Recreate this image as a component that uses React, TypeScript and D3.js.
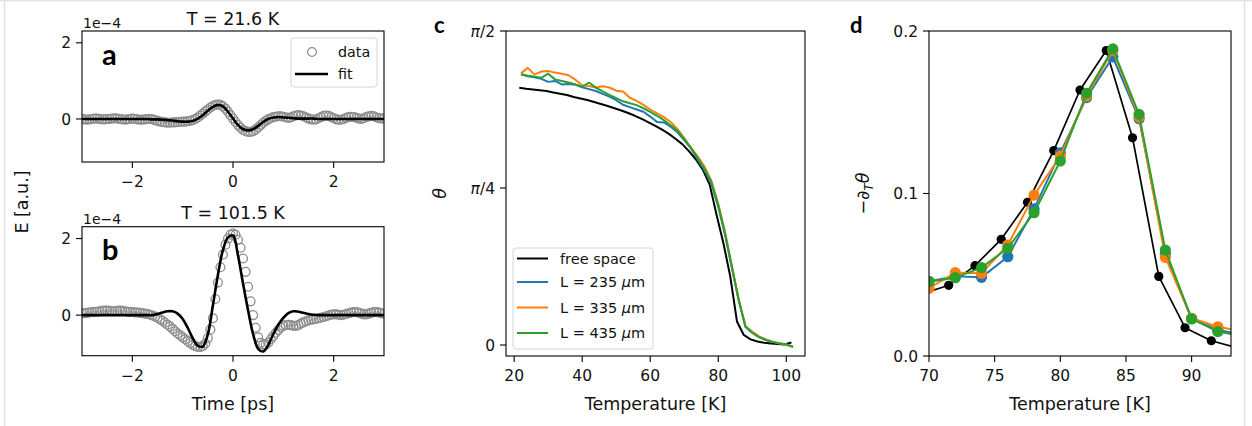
import React from "react";
import * as d3 from "d3";

// ---------- DATA ----------
// panels a/b: sampled time grid (ps)
const TIME_DATA_STEP = 0.05;
const TIME_FIT_STEP = 0.1;
const timeData = d3.range(0, 121).map((i) => -3 + i * TIME_DATA_STEP);
const timeFit = d3.range(0, 61).map((i) => -3 + i * TIME_FIT_STEP);

// E field, units of 1e-4, T = 21.6 K
const E_DATA_A = [
  0.0, -0.01, -0.02, -0.01, 0.0, 0.01, 0.01, 0.0, -0.01, -0.01, 0.0, 0.0, 0.01, 0.02, 0.01, 0.0, -0.01, -0.02, -0.01, 0.0,
  0.01, 0.0, -0.01, -0.02, -0.02, -0.01, 0.0, 0.0, -0.01,
  -0.03, -0.05, -0.07, -0.08, -0.09, -0.1, -0.1, -0.09, -0.09, -0.08, -0.08, -0.07, -0.07, -0.06, -0.05, -0.03,
  0.0, 0.04, 0.09, 0.14, 0.2, 0.25, 0.3, 0.34, 0.37, 0.38,
  0.37, 0.33, 0.27, 0.19, 0.1, 0.01, -0.08, -0.16, -0.23, -0.29, -0.32, -0.34, -0.34,
  -0.32, -0.28, -0.22, -0.16, -0.1, -0.05, -0.01, 0.02, 0.05, 0.06,
  0.07, 0.07, 0.06, 0.04, 0.03, 0.04, 0.07, 0.09, 0.1, 0.09, 0.07, 0.04, 0.01, -0.01, -0.02, -0.01, 0.02, 0.05, 0.08, 0.09,
  0.08, 0.05, 0.02, -0.01, -0.02, -0.02, 0.0, 0.03, 0.05, 0.06, 0.05, 0.03, 0.01, 0.0, 0.02, 0.05, 0.07, 0.08, 0.07, 0.04,
  0.02, 0.01, 0.02,
];
const E_FIT_A = [
  0, 0, 0, 0, 0, 0, 0, 0, 0, 0, 0, 0, 0, 0, -0.01, -0.01,
  -0.02, -0.03, -0.04, -0.06, -0.07, -0.07, -0.05, 0.01, 0.1, 0.22, 0.32, 0.37, 0.33, 0.19, 0.01, -0.16, -0.27, -0.3, -0.27,
  -0.18, -0.08, 0.0, 0.04, 0.05, 0.04, 0.03, 0.02, 0.01,
  0.01, 0.01, 0.01, 0, 0, 0, 0, 0, 0, 0, 0, 0, 0, 0, 0, 0, 0,
];
// E field, units of 1e-4, T = 101.5 K
const E_DATA_B = [
  0.05, 0.05, 0.06, 0.07, 0.08, 0.08, 0.09, 0.1, 0.11, 0.12, 0.12, 0.11, 0.1, 0.1, 0.11, 0.12, 0.11, 0.1, 0.09, 0.08,
  0.08, 0.07, 0.07, 0.06, 0.05, 0.04, 0.03,
  0.01, -0.01, -0.04, -0.07, -0.11, -0.15, -0.2, -0.25, -0.3, -0.36, -0.42, -0.48, -0.53, -0.58, -0.63, -0.68, -0.73, -0.78, -0.81,
  -0.83, -0.83, -0.81, -0.74, -0.6, -0.38, -0.08, 0.42, 0.85, 1.25, 1.58, 1.84, 2.0, 2.1, 2.13,
  2.1, 1.97, 1.76, 1.48, 1.13, 0.74, 0.36, 0.0, -0.33, -0.58, -0.72, -0.77,
  -0.77, -0.72, -0.63, -0.55, -0.46, -0.39, -0.32, -0.28, -0.26, -0.25, -0.26, -0.28, -0.28, -0.26, -0.22, -0.19, -0.16, -0.14,
  -0.12, -0.11, -0.1, -0.08, -0.07, -0.05, -0.03, -0.01, 0.01, 0.02, 0.02, 0.01, 0.0, 0.01, 0.03, 0.05, 0.07, 0.08, 0.08, 0.06,
  0.04, 0.02, 0.02, 0.04, 0.06, 0.08, 0.08, 0.07, 0.05, 0.04,
];
const E_FIT_B = [
  0, 0, 0, 0, 0, 0, 0, 0, 0, 0, 0, 0, 0, 0, 0,
  0.03, 0.07, 0.1, 0.1, 0.04, -0.1, -0.33, -0.6, -0.8, -0.82, -0.5, 0.25, 1.05, 1.7, 2.03, 2.08, 1.55, 0.82, 0.12, -0.5,
  -0.88, -0.95, -0.78, -0.5, -0.25, -0.07, 0.05, 0.1, 0.09, 0.06, 0.03, 0.01,
  0, 0, 0, 0, 0, 0, 0, 0, 0, 0, 0, 0, 0, 0,
];

// panel c: theta in units of pi/4
const TEMP_FREE = d3.range(0, 41).map((i) => 21.5 + 2 * i);
const TEMP_SAMPLE = d3.range(0, 41).map((i) => 22 + 2 * i);
const THETA_FREE = [
  1.638, 1.632, 1.628, 1.623, 1.618, 1.608, 1.6, 1.592, 1.58, 1.57, 1.56, 1.548, 1.535, 1.522, 1.508, 1.494, 1.478, 1.46,
  1.44, 1.418, 1.396, 1.372, 1.345, 1.312, 1.278, 1.232, 1.18, 1.115, 1.02, 0.83, 0.65, 0.44, 0.15, 0.064, 0.036, 0.022,
  0.014, 0.009, 0.006, 0.004, 0.016,
];
const THETA_235 = [
  1.725, 1.712, 1.705, 1.695, 1.676, 1.682, 1.66, 1.662, 1.658, 1.642, 1.63, 1.618, 1.6, 1.582, 1.56, 1.53, 1.515, 1.5,
  1.486, 1.455, 1.42, 1.418, 1.39, 1.355, 1.305, 1.25, 1.18, 1.11, 1.025, 0.88, 0.7, 0.49, 0.285, 0.115, 0.078, 0.05,
  0.032, 0.02, 0.01, 0.003, -0.012,
];
const THETA_335 = [
  1.73, 1.765, 1.722, 1.742, 1.745, 1.735, 1.728, 1.718, 1.69, 1.655, 1.65, 1.64, 1.648, 1.64, 1.62, 1.615, 1.575, 1.555,
  1.53, 1.5, 1.475, 1.452, 1.42, 1.376, 1.318, 1.255, 1.2, 1.135, 1.045, 0.9, 0.72, 0.5, 0.29, 0.12, 0.085, 0.055, 0.035,
  0.02, 0.012, 0.003, -0.012,
];
const THETA_435 = [
  1.725, 1.715, 1.708, 1.702, 1.728, 1.692, 1.682, 1.672, 1.66, 1.645, 1.672, 1.64, 1.615, 1.593, 1.572, 1.552, 1.54, 1.528,
  1.508, 1.485, 1.46, 1.432, 1.4, 1.365, 1.312, 1.255, 1.19, 1.12, 1.035, 0.89, 0.71, 0.5, 0.29, 0.12, 0.078, 0.05, 0.032,
  0.02, 0.01, 0.003, -0.012,
];

// panel d: -dθ/dT
const TEMP_D_FREE = [69.5, 71.5, 73.5, 75.5, 77.5, 79.5, 81.5, 83.5, 85.5, 87.5, 89.5, 91.5, 93.5];
const DTHETA_FREE = [0.0383, 0.0435, 0.0556, 0.0718, 0.0946, 0.1264, 0.1637, 0.188, 0.1343, 0.049, 0.0174, 0.0094, 0.005];
const TEMP_D = [70, 72, 74, 76, 78, 80, 82, 84, 86, 88, 90, 92, 94];
const DTHETA_235 = [0.046, 0.049, 0.0484, 0.0611, 0.0905, 0.125, 0.159, 0.184, 0.146, 0.063, 0.023, 0.016, 0.013];
const DTHETA_335 = [0.0417, 0.0513, 0.0509, 0.0683, 0.099, 0.123, 0.16, 0.188, 0.147, 0.0607, 0.0232, 0.018, 0.015];
const DTHETA_435 = [0.0457, 0.0482, 0.0544, 0.0663, 0.0882, 0.12, 0.1617, 0.189, 0.1487, 0.0652, 0.0228, 0.015, 0.012];

const SERIES_LABELS = ["free space", "L = 235 ", "L = 335 ", "L = 435 "];
const COLORS = ["#000000", "#1f77b4", "#ff7f0e", "#2ca02c"];

// ---------- STYLE ----------
const FONT = "'DejaVu Sans', sans-serif";
const TICK_FS = 15.5;
const LABEL_FS = 17.5;
const TXT = "#111";

type Box = { x0: number; x1: number; y0: number; y1: number };

function Frame({ b }: { b: Box }) {
  return <rect x={b.x0} y={b.y0} width={b.x1 - b.x0} height={b.y1 - b.y0} fill="none" stroke="#000" strokeWidth={1.1} />;
}

function XTicks({ b, sx, ticks, fmt }: { b: Box; sx: any; ticks: number[]; fmt: (v: number) => any }) {
  return (
    <g>
      {ticks.map((t, i) => (
        <g key={i}>
          <line x1={sx(t)} x2={sx(t)} y1={b.y1} y2={b.y1 + 6} stroke="#000" strokeWidth={1.1} />
          <text x={sx(t)} y={b.y1 + 25} textAnchor="middle" fontSize={TICK_FS} fontFamily={FONT} fill={TXT}>
            {fmt(t)}
          </text>
        </g>
      ))}
    </g>
  );
}

function YTicks({ b, sy, ticks, fmt }: { b: Box; sy: any; ticks: number[]; fmt: (v: number) => any }) {
  return (
    <g>
      {ticks.map((t, i) => (
        <g key={i}>
          <line x1={b.x0 - 6} x2={b.x0} y1={sy(t)} y2={sy(t)} stroke="#000" strokeWidth={1.1} />
          <text x={b.x0 - 11} y={sy(t) + 5.6} textAnchor="end" fontSize={TICK_FS} fontFamily={FONT} fill={TXT}>
            {fmt(t)}
          </text>
        </g>
      ))}
    </g>
  );
}

const minus = (v: number) => (v < 0 ? "\u2212" + Math.abs(v) : String(v));

function PulsePanel({ b, yDom, data, fit, title, letter, id }: any) {
  const sx = d3.scaleLinear().domain([-3, 3]).range([b.x0, b.x1]);
  const sy = d3.scaleLinear().domain(yDom).range([b.y1, b.y0]);
  const line = d3
    .line<number>()
    .x((_, i) => sx(timeFit[i]))
    .y((d) => sy(d))
    .curve(d3.curveCatmullRom);
  return (
    <g>
      <defs>
        <clipPath id={id}>
          <rect x={b.x0} y={b.y0} width={b.x1 - b.x0} height={b.y1 - b.y0} />
        </clipPath>
      </defs>
      <g clipPath={`url(#${id})`}>
        {data.map((v: number, i: number) => (
          <circle key={i} cx={sx(timeData[i])} cy={sy(v)} r={4.4} fill="none" stroke="#8c8c8c" strokeWidth={1.3} />
        ))}
        <path d={line(fit) || ""} fill="none" stroke="#000" strokeWidth={2.6} />
      </g>
      <Frame b={b} />
      <XTicks b={b} sx={sx} ticks={[-2, 0, 2]} fmt={minus} />
      <YTicks b={b} sy={sy} ticks={[0, 2]} fmt={(v) => String(v)} />
      <text x={b.x0 + 1} y={b.y0 - 3} fontSize={14} fontFamily={FONT} fill={TXT}>
        1e{"\u2212"}4
      </text>
      <text x={(b.x0 + b.x1) / 2} y={title.y} textAnchor="middle" fontSize={LABEL_FS} fontFamily={FONT} fill={TXT}>
        {title.text}
      </text>
      <text x={102} y={letter.y} fontSize={29} fontWeight={700} fontFamily="Lato, 'Open Sans', sans-serif" fill="#000">
        {letter.text}
      </text>
    </g>
  );
}

export default function App() {
  const bA: Box = { x0: 82, x1: 384, y0: 31, y1: 162 };
  const bB: Box = { x0: 82, x1: 384, y0: 226.7, y1: 355.7 };
  const bC: Box = { x0: 506, x1: 805, y0: 31, y1: 356 };
  const bD: Box = { x0: 929, x1: 1231, y0: 31, y1: 356 };

  const sxC = d3.scaleLinear().domain([17.6, 105.5]).range([bC.x0, bC.x1]);
  const syC = d3.scaleLinear().domain([-0.07, 2]).range([bC.y1, bC.y0]);
  const sxD = d3.scaleLinear().domain([70, 93]).range([bD.x0, bD.x1]);
  const syD = d3.scaleLinear().domain([0, 0.2]).range([bD.y1, bD.y0]);

  const cSeries = [
    { t: TEMP_FREE, v: THETA_FREE },
    { t: TEMP_SAMPLE, v: THETA_235 },
    { t: TEMP_SAMPLE, v: THETA_335 },
    { t: TEMP_SAMPLE, v: THETA_435 },
  ];
  const dSeries = [
    { t: TEMP_D_FREE, v: DTHETA_FREE },
    { t: TEMP_D, v: DTHETA_235 },
    { t: TEMP_D, v: DTHETA_335 },
    { t: TEMP_D, v: DTHETA_435 },
  ];
  const lineC = (s: any) =>
    d3
      .line<number>()
      .x((_, i) => sxC(s.t[i]))
      .y((d) => syC(d))(s.v) || "";
  const lineD = (s: any) =>
    d3
      .line<number>()
      .x((_, i) => sxD(s.t[i]))
      .y((d) => syD(d))(s.v) || "";

  const legendY = [258.5, 282, 307.5, 333];

  return (
    <svg
      width={1252}
      height={426}
      style={{ position: "absolute", left: 0, top: 0, background: "#fff" }}
      xmlns="http://www.w3.org/2000/svg"
    >
      <rect x={0} y={0} width={1252} height={426} fill="#fff" />
      {/* figure frame */}
      <line x1={0} x2={1252} y1={0.5} y2={0.5} stroke="#e2e2e2" strokeWidth={1.5} />
      <line x1={4.5} x2={4.5} y1={0} y2={426} stroke="#e2e2e2" strokeWidth={1.5} />
      <line x1={1244.5} x2={1244.5} y1={0} y2={426} stroke="#e2e2e2" strokeWidth={1.5} />

      {/* panel a */}
      <PulsePanel
        b={bA}
        yDom={[-1.13, 2.31]}
        data={E_DATA_A}
        fit={E_FIT_A}
        title={{ text: "T = 21.6 K", y: 25 }}
        letter={{ text: "a", y: 65 }}
        id="clipA"
      />
      {/* legend a */}
      <g>
        <rect x={291} y={38} width={86} height={49} rx={3} fill="#fff" fillOpacity={0.85} stroke="#d4d4d4" strokeWidth={1} />
        <circle cx={312} cy={52} r={4.4} fill="none" stroke="#8c8c8c" strokeWidth={1.3} />
        <text x={338} y={57} fontSize={14.3} fontFamily={FONT} fill={TXT}>
          data
        </text>
        <line x1={295} x2={328} y1={74} y2={74} stroke="#000" strokeWidth={2.6} />
        <text x={338} y={79} fontSize={14.3} fontFamily={FONT} fill={TXT}>
          fit
        </text>
      </g>

      {/* panel b */}
      <PulsePanel
        b={bB}
        yDom={[-1.06, 2.31]}
        data={E_DATA_B}
        fit={E_FIT_B}
        title={{ text: "T = 101.5 K", y: 219 }}
        letter={{ text: "b", y: 260 }}
        id="clipB"
      />
      <text x={(bB.x0 + bB.x1) / 2} y={410} textAnchor="middle" fontSize={LABEL_FS} fontFamily={FONT} fill={TXT}>
        Time [ps]
      </text>
      <text transform="translate(28,202) rotate(-90)" textAnchor="middle" fontSize={LABEL_FS} fontFamily={FONT} fill={TXT}>
        E [a.u.]
      </text>

      {/* panel c */}
      <defs>
        <clipPath id="clipC">
          <rect x={bC.x0} y={bC.y0} width={bC.x1 - bC.x0} height={bC.y1 - bC.y0} />
        </clipPath>
        <clipPath id="clipD">
          <rect x={bD.x0} y={bD.y0} width={bD.x1 - bD.x0} height={bD.y1 - bD.y0} />
        </clipPath>
      </defs>
      <g clipPath="url(#clipC)">
        {cSeries.map((s, i) => (
          <path key={i} d={lineC(s)} fill="none" stroke={COLORS[i]} strokeWidth={2} strokeLinejoin="round" />
        ))}
      </g>
      <Frame b={bC} />
      <XTicks b={bC} sx={sxC} ticks={[20, 40, 60, 80, 100]} fmt={(v) => String(v)} />
      <YTicks
        b={bC}
        sy={syC}
        ticks={[0, 1, 2]}
        fmt={(v) =>
          v === 0 ? (
            "0"
          ) : (
            <>
              <tspan fontStyle="italic">π</tspan>/{v === 1 ? 4 : 2}
            </>
          )
        }
      />
      <text x={(bC.x0 + bC.x1) / 2} y={410} textAnchor="middle" fontSize={LABEL_FS} fontFamily={FONT} fill={TXT}>
        Temperature [K]
      </text>
      <text
        transform={`translate(446,${(bC.y0 + bC.y1) / 2}) rotate(-90)`}
        textAnchor="middle"
        fontSize={LABEL_FS}
        fontStyle="italic"
        fontFamily={FONT}
        fill={TXT}
      >
        θ
      </text>
      <text x={434} y={33} fontSize={22} fontWeight={700} fontFamily="Lato, 'Open Sans', sans-serif" fill="#000">
        c
      </text>
      {/* legend c */}
      <g>
        <rect x={513} y={248} width={140} height={101} rx={3} fill="#fff" fillOpacity={0.85} stroke="#d4d4d4" strokeWidth={1} />
        {SERIES_LABELS.map((lab, i) => (
          <g key={i}>
            <line x1={517} x2={548} y1={legendY[i]} y2={legendY[i]} stroke={COLORS[i]} strokeWidth={2} />
            <text x={560} y={legendY[i] + 5} fontSize={14.5} fontFamily={FONT} fill={TXT}>
              {lab}
              {i > 0 ? (
                <>
                  <tspan fontStyle="italic">μ</tspan>m
                </>
              ) : null}
            </text>
          </g>
        ))}
      </g>

      {/* panel d */}
      <g clipPath="url(#clipD)">
        {dSeries.map((s, i) => (
          <g key={i}>
            <path d={lineD(s)} fill="none" stroke={COLORS[i]} strokeWidth={i === 0 ? 1.7 : 2} strokeLinejoin="round" />
            {s.v.map((v, j) => (
              <circle key={j} cx={sxD(s.t[j])} cy={syD(v)} r={i === 0 ? 4.6 : 5.6} fill={COLORS[i]} />
            ))}
          </g>
        ))}
      </g>
      <Frame b={bD} />
      <XTicks b={bD} sx={sxD} ticks={[70, 75, 80, 85, 90]} fmt={(v) => String(v)} />
      <YTicks b={bD} sy={syD} ticks={[0, 0.1, 0.2]} fmt={(v) => v.toFixed(1)} />
      <text x={(bD.x0 + bD.x1) / 2} y={410} textAnchor="middle" fontSize={LABEL_FS} fontFamily={FONT} fill={TXT}>
        Temperature [K]
      </text>
      <text
        transform={`translate(869,${(bD.y0 + bD.y1) / 2}) rotate(-90)`}
        textAnchor="middle"
        fontSize={LABEL_FS}
        fontFamily={FONT}
        fill={TXT}
      >
        {"\u2212∂"}
        <tspan fontSize={12} fontStyle="italic" dy={4}>
          T
        </tspan>
        <tspan fontStyle="italic" dy={-4}>
          θ
        </tspan>
      </text>
      <text x={850} y={33} fontSize={22} fontWeight={700} fontFamily="Lato, 'Open Sans', sans-serif" fill="#000">
        d
      </text>
    </svg>
  );
}
